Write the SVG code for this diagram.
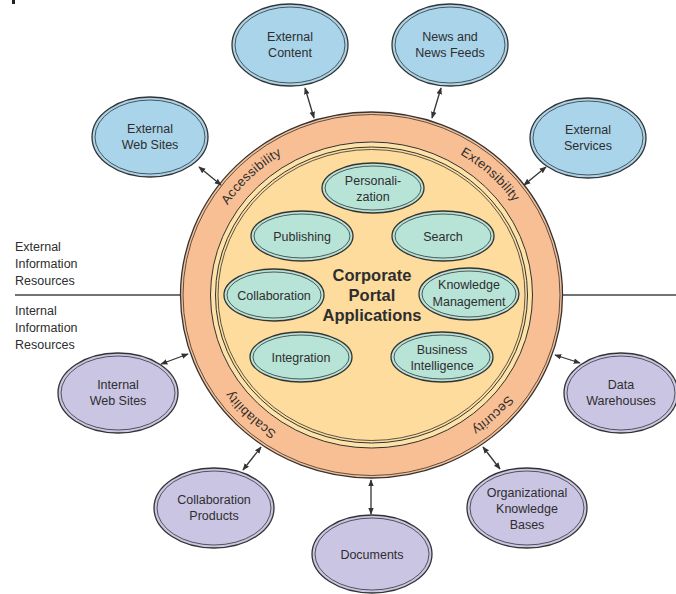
<svg xmlns="http://www.w3.org/2000/svg" width="676" height="594" viewBox="0 0 676 594">
<style>
text{font-family:"Liberation Sans",Arial,sans-serif;fill:#2e2e2e}
.t{font-size:12.5px;text-anchor:middle}
.side{font-size:12.5px}
.ring{font-size:13px;letter-spacing:0.3px}
.ol{stroke:#333;stroke-width:1.3}
.il{fill:none;stroke:#333;stroke-width:0.8}
.blue{fill:#A9D4EA}
.purple{fill:#CBC5E4}
.teal{fill:#B8E3D7}
.conn line{stroke:#333;stroke-width:1.3;marker-start:url(#ah);marker-end:url(#ah)}
</style>
<defs>
<marker id="ah" viewBox="0 0 10 10" refX="9" refY="5" markerWidth="7" markerHeight="7" orient="auto-start-reverse" markerUnits="userSpaceOnUse">
<path d="M0,1 L10,5 L0,9 z" fill="#333"/>
</marker>
<path id="rp" d="M543.5,295 A172,164 0 1 1 199.5,295 A172,164 0 1 1 543.5,295"/>
</defs>
<rect x="12" y="0" width="3" height="4" fill="#222"/>
<g id="divider">
<line x1="15" y1="295" x2="181" y2="295" stroke="#444" stroke-width="1.5"/>
<line x1="562" y1="295" x2="676" y2="295" stroke="#444" stroke-width="1.5"/>
</g>
<g id="side-labels">
<text class="side" x="15" y="251">External</text>
<text class="side" x="15" y="268">Information</text>
<text class="side" x="15" y="285">Resources</text>
<text class="side" x="15" y="315">Internal</text>
<text class="side" x="15" y="332">Information</text>
<text class="side" x="15" y="349">Resources</text>
</g>
<g id="ring">
<ellipse cx="371.5" cy="295" rx="191" ry="183" fill="#F8BF95" class="ol"/>
<ellipse cx="371.5" cy="295" rx="188.5" ry="180.5" class="il"/>
<ellipse cx="371.5" cy="295" rx="161" ry="153" fill="#FDE3A8" stroke="#333" stroke-width="1"/>
<ellipse cx="371.5" cy="295" rx="156" ry="148" fill="#FDDC9D" stroke="#333" stroke-width="1"/>
<ellipse cx="371.5" cy="295" rx="153.5" ry="145.5" class="il"/>
<text class="ring"><textPath href="#rp" startOffset="12.6%" text-anchor="middle">Security</textPath></text>
<text class="ring"><textPath href="#rp" startOffset="37.4%" text-anchor="middle">Scalability</textPath></text>
<text class="ring"><textPath href="#rp" startOffset="62.6%" text-anchor="middle">Accessibility</textPath></text>
<text class="ring"><textPath href="#rp" startOffset="87.2%" text-anchor="middle">Extensibility</textPath></text>
</g>
<g id="center-title">
<text x="372" y="281" style="font-size:16.5px;font-weight:bold;text-anchor:middle">Corporate</text>
<text x="372" y="301" style="font-size:16.5px;font-weight:bold;text-anchor:middle">Portal</text>
<text x="372" y="321" style="font-size:16.5px;font-weight:bold;text-anchor:middle">Applications</text>
</g>
<g id="personalization">
<ellipse cx="373" cy="188" rx="51" ry="25" class="teal ol"/><ellipse cx="373" cy="188" rx="48" ry="22" class="il"/>
<text class="t" x="373" y="185">Personali-</text><text class="t" x="373" y="201">zation</text>
</g>
<g id="publishing">
<ellipse cx="302" cy="236" rx="51" ry="25" class="teal ol"/><ellipse cx="302" cy="236" rx="48" ry="22" class="il"/>
<text class="t" x="302" y="240.5">Publishing</text>
</g>
<g id="search">
<ellipse cx="443" cy="236" rx="51" ry="25" class="teal ol"/><ellipse cx="443" cy="236" rx="48" ry="22" class="il"/>
<text class="t" x="443" y="240.5">Search</text>
</g>
<g id="collaboration">
<ellipse cx="274" cy="295" rx="50" ry="26" class="teal ol"/><ellipse cx="274" cy="295" rx="47" ry="23" class="il"/>
<text class="t" x="274" y="299.5">Collaboration</text>
</g>
<g id="knowledge-management">
<ellipse cx="469" cy="294" rx="50" ry="26" class="teal ol"/><ellipse cx="469" cy="294" rx="47" ry="23" class="il"/>
<text class="t" x="469" y="289">Knowledge</text><text class="t" x="469" y="306">Management</text>
</g>
<g id="integration">
<ellipse cx="301" cy="357" rx="51" ry="25" class="teal ol"/><ellipse cx="301" cy="357" rx="48" ry="22" class="il"/>
<text class="t" x="301" y="361.5">Integration</text>
</g>
<g id="business-intelligence">
<ellipse cx="442" cy="357" rx="51" ry="25" class="teal ol"/><ellipse cx="442" cy="357" rx="48" ry="22" class="il"/>
<text class="t" x="442" y="353.5">Business</text><text class="t" x="442" y="369.5">Intelligence</text>
</g>
<g id="external-content">
<ellipse cx="290" cy="45" rx="58" ry="41" class="blue ol"/><ellipse cx="290" cy="45" rx="55" ry="38" class="il"/>
<text class="t" x="290" y="41">External</text><text class="t" x="290" y="57">Content</text>
</g>
<g id="news">
<ellipse cx="450" cy="45" rx="58" ry="41" class="blue ol"/><ellipse cx="450" cy="45" rx="55" ry="38" class="il"/>
<text class="t" x="450" y="41">News and</text><text class="t" x="450" y="57">News Feeds</text>
</g>
<g id="external-web-sites">
<ellipse cx="150" cy="137" rx="58" ry="40" class="blue ol"/><ellipse cx="150" cy="137" rx="55" ry="37" class="il"/>
<text class="t" x="150" y="133">External</text><text class="t" x="150" y="149">Web Sites</text>
</g>
<g id="external-services">
<ellipse cx="588" cy="138" rx="58" ry="40" class="blue ol"/><ellipse cx="588" cy="138" rx="55" ry="37" class="il"/>
<text class="t" x="588" y="134">External</text><text class="t" x="588" y="150">Services</text>
</g>
<g id="internal-web-sites">
<ellipse cx="118" cy="393" rx="60" ry="40" class="purple ol"/><ellipse cx="118" cy="393" rx="57" ry="37" class="il"/>
<text class="t" x="118" y="389">Internal</text><text class="t" x="118" y="405">Web Sites</text>
</g>
<g id="collaboration-products">
<ellipse cx="214" cy="508" rx="60" ry="40" class="purple ol"/><ellipse cx="214" cy="508" rx="57" ry="37" class="il"/>
<text class="t" x="214" y="504">Collaboration</text><text class="t" x="214" y="520">Products</text>
</g>
<g id="documents">
<ellipse cx="372" cy="554" rx="60" ry="39" class="purple ol"/><ellipse cx="372" cy="554" rx="57" ry="36" class="il"/>
<text class="t" x="372" y="558.5">Documents</text>
</g>
<g id="organizational-knowledge-bases">
<ellipse cx="527" cy="508" rx="60" ry="40" class="purple ol"/><ellipse cx="527" cy="508" rx="57" ry="37" class="il"/>
<text class="t" x="527" y="496.5">Organizational</text><text class="t" x="527" y="512.5">Knowledge</text><text class="t" x="527" y="528.5">Bases</text>
</g>
<g id="data-warehouses">
<ellipse cx="621" cy="393" rx="57" ry="40" class="purple ol"/><ellipse cx="621" cy="393" rx="54" ry="37" class="il"/>
<text class="t" x="621" y="389">Data</text><text class="t" x="621" y="405">Warehouses</text>
</g>
<g id="connectors" class="conn">
<line x1="305" y1="88" x2="314" y2="118"/>
<line x1="441" y1="88" x2="432" y2="118"/>
<line x1="199" y1="167" x2="221" y2="185"/>
<line x1="546" y1="167" x2="524" y2="185"/>
<line x1="161" y1="364" x2="188" y2="354"/>
<line x1="243" y1="470" x2="261" y2="447"/>
<line x1="371" y1="480" x2="371" y2="514"/>
<line x1="483" y1="447" x2="500" y2="469"/>
<line x1="555" y1="355" x2="580" y2="363"/>
</g>
</svg>
